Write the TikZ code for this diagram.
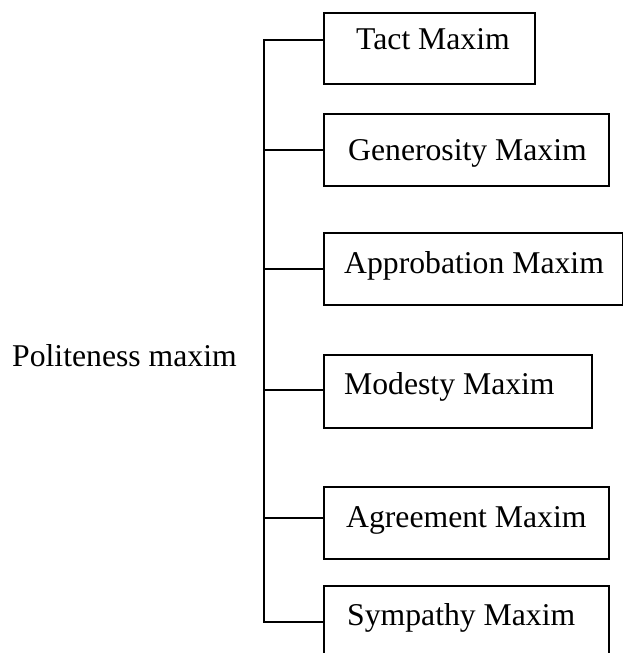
\documentclass[tikz,border=0pt]{standalone}
\usepackage{fontspec}
\setmainfont{Liberation Serif}
\begin{document}
\begin{tikzpicture}[x=1pt,y=-1pt,
  box/.style={draw, line width=1.5pt, inner sep=0pt, anchor=north west},
  lbl/.style={inner sep=0pt, anchor=base west, font=\fontsize{31.7}{36}\selectfont},
  conn/.style={line width=1.5pt}]
\useasboundingbox (0,0) rectangle (623,653);
\clip (0,0) rectangle (623,653);
% boxes
\node[box, minimum width=211pt, minimum height=71pt] (t) at (323,12) {};
\node[box, minimum width=285pt, minimum height=72pt] (g) at (323,113) {};
\node[box, minimum width=299pt, minimum height=72pt] (a) at (323,232) {};
\node[box, minimum width=268pt, minimum height=73pt] (m) at (323,354) {};
\node[box, minimum width=285pt, minimum height=72pt] (ag) at (323,486) {};
\node[box, minimum width=285pt, minimum height=80pt] (s) at (323,585) {};
% labels
\node[lbl] (tl) at (356,49) {Tact Maxim};
\node[lbl] (gl) at (348,160) {Generosity Maxim};
\node[lbl] (al) at (344,273) {Approbation Maxim};
\node[lbl] (ml) at (344,394) {Modesty Maxim};
\node[lbl] (agl) at (346,527) {Agreement Maxim};
\node[lbl] (sl) at (347,625) {Sympathy Maxim};
\node[lbl] (p) at (12,366) {Politeness maxim};
% junctions
\coordinate (j1) at (264,40);
\coordinate (j2) at (264,150);
\coordinate (j3) at (264,269);
\coordinate (j4) at (264,390);
\coordinate (j5) at (264,518);
\coordinate (j6) at (264,622);
\draw[conn] (j1 -| t.west) -- (j1) -- (j6) -- (j6 -| s.west);
\draw[conn] (j2) -- (j2 -| g.west);
\draw[conn] (j3) -- (j3 -| a.west);
\draw[conn] (j4) -- (j4 -| m.west);
\draw[conn] (j5) -- (j5 -| ag.west);
\end{tikzpicture}
\end{document}
